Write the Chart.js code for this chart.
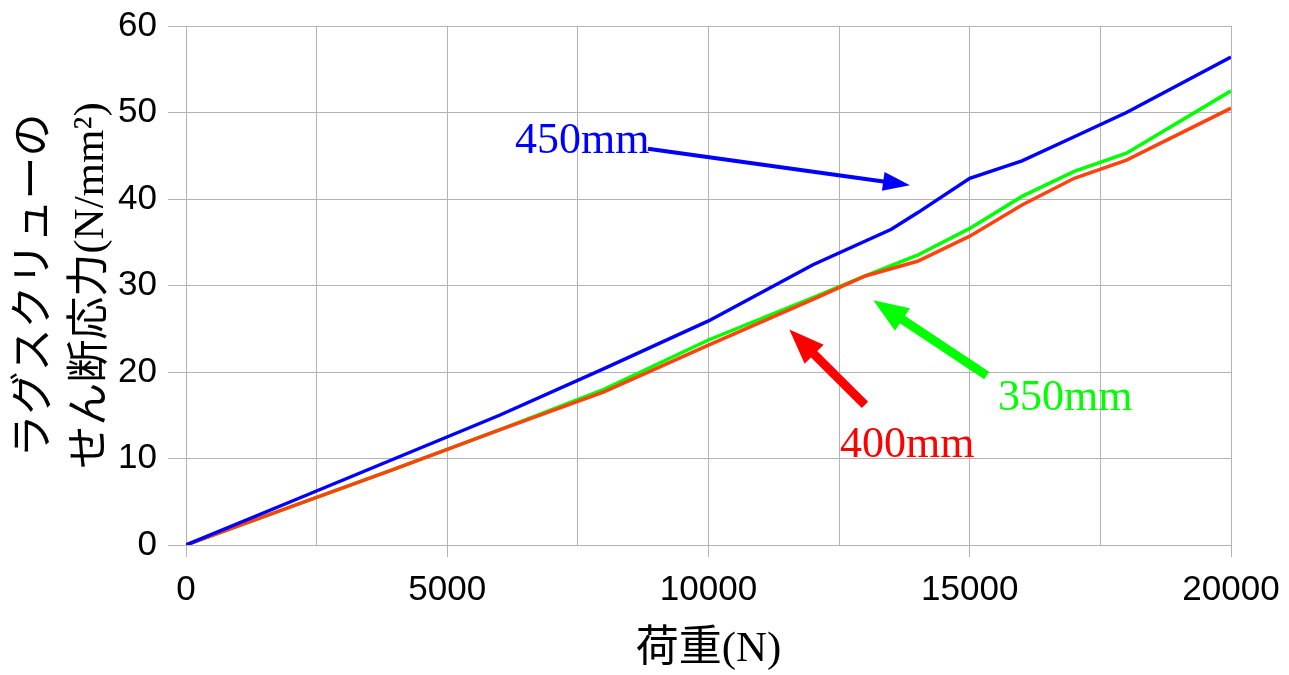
<!DOCTYPE html>
<html>
<head>
<meta charset="utf-8">
<script src="https://cdn.jsdelivr.net/npm/chart.js@4"></script>
<style>
  html, body { margin: 0; background: #fff; }
  #wrap { width: 1289px; height: 675px; }
</style>
</head>
<body>
<div id="wrap"><canvas id="chart"></canvas></div>
<script>
// load (N) for each series
const load450 = [0, 2000, 4000, 6000, 8000, 10000, 12000, 13500, 14000, 15000, 16000, 17000, 18000, 20000];
const stress450 = [0, 5.0, 10.0, 15.0, 20.4, 25.9, 32.4, 36.5, 38.4, 42.4, 44.4, 47.2, 50.0, 56.4];

const load400 = [0, 2000, 4000, 6000, 8000, 10000, 12000, 13000, 14000, 15000, 16000, 17000, 18000, 20000];
const stress400 = [0, 4.4, 8.8, 13.3, 17.7, 23.1, 28.4, 31.1, 32.8, 35.7, 39.3, 42.4, 44.5, 50.5];

const load350 = [0, 2000, 4000, 6000, 8000, 10000, 12000, 13000, 14000, 15000, 16000, 17000, 18000, 20000];
const stress350 = [0, 4.4, 8.8, 13.3, 18.0, 23.7, 28.6, 31.1, 33.5, 36.6, 40.3, 43.2, 45.3, 52.5];

const xTitle = "荷重(N)";
const yTitle = ["ラグスクリューの", "せん断応力(N/mm²)"];

const GRID = "#b3b3b3";
const SERIF = '"Liberation Serif", "Noto Sans CJK JP", serif';
const SANS = '"Liberation Sans", Arial, sans-serif';

// callout arrows, in data units (load, stress)
const callouts = [
  { text: "450mm", color: "#0000ff", textAt: [6297, 45.3], from: [8842, 45.8], to: [13856, 41.6], width: 4, headLen: 27, headW: 19 },
  { text: "350mm", color: "#00ff00", textAt: [15541, 15.6], from: [15324, 19.6], to: [13154, 28.3], width: 9, headLen: 35, headW: 27 },
  { text: "400mm", color: "#ff0000", textAt: [12517, 10.2], from: [12995, 16.2], to: [11547, 24.9], width: 9, headLen: 35, headW: 27 },
];

const toPoints = (xs, ys) => xs.map((x, i) => ({ x: x, y: ys[i] }));

/** Arrows and labels */
const calloutPlugin = {
  id: "callouts",
  afterDatasetsDraw(chart) {
    const { ctx, scales } = chart;
    const px = (p) => [scales.x.getPixelForValue(p[0]), scales.y.getPixelForValue(p[1])];
    ctx.save();
    callouts.forEach((c) => {
      const [x0, y0] = px(c.from);
      const [x1, y1] = px(c.to);
      const ang = Math.atan2(y1 - y0, x1 - x0);
      const bx = x1 - Math.cos(ang) * (c.headLen - 2);
      const by = y1 - Math.sin(ang) * (c.headLen - 2);

      ctx.strokeStyle = c.color;
      ctx.fillStyle = c.color;
      ctx.lineWidth = c.width;
      ctx.lineCap = "butt";
      ctx.beginPath();
      ctx.moveTo(x0, y0);
      ctx.lineTo(bx, by);
      ctx.stroke();

      // head
      const hx = x1 - Math.cos(ang) * c.headLen;
      const hy = y1 - Math.sin(ang) * c.headLen;
      const nx = -Math.sin(ang) * c.headW / 2;
      const ny = Math.cos(ang) * c.headW / 2;
      ctx.beginPath();
      ctx.moveTo(x1, y1);
      ctx.lineTo(hx + nx, hy + ny);
      ctx.lineTo(hx - nx, hy - ny);
      ctx.closePath();
      ctx.fill();

      // label
      const [tx, ty] = px(c.textAt);
      ctx.font = "44px " + SERIF;
      ctx.textAlign = "left";
      ctx.textBaseline = "alphabetic";
      ctx.fillText(c.text, tx, ty);
    });
    ctx.restore();
  },
};

new Chart(document.getElementById("chart"), {
  type: "line",
  data: {
    datasets: [
      { label: "450mm", data: toPoints(load450, stress450), borderColor: "#0000ff" },
      { label: "400mm", data: toPoints(load400, stress400), borderColor: "#ff420e" },
      { label: "350mm", data: toPoints(load350, stress350), borderColor: "#00ff00" },
    ],
  },
  options: {
    responsive: true,
    maintainAspectRatio: false,
    animation: false,
    layout: { padding: { top: 26, right: 58, bottom: 0, left: 0 } },
    elements: {
      point: { radius: 0 },
      line: { borderWidth: 3.5, tension: 0 },
    },
    plugins: {
      legend: { display: false },
      tooltip: { enabled: false },
    },
    scales: {
      x: {
        type: "linear",
        min: 0,
        max: 20000,
        afterFit: (scale) => {
          scale.height = 130;
          scale.paddingLeft = 0;
          scale.paddingRight = 0;
        },
        ticks: {
          stepSize: 2500,
          autoSkip: false,
          maxRotation: 0,
          padding: 12,
          color: "#000",
          font: { family: SANS, size: 35 },
          callback: (v) => (v % 5000 === 0 ? v : ""),
        },
        grid: {
          color: GRID,
          tickLength: 12,
          tickColor: (ctx) => (ctx.tick && ctx.tick.value % 5000 === 0 ? GRID : "rgba(0,0,0,0)"),
        },
        border: { color: GRID },
        title: {
          display: true,
          text: xTitle,
          color: "#000",
          font: { family: SERIF, size: 43, lineHeight: 1.1 },
          padding: { top: 0, bottom: 2 },
        },
      },
      y: {
        min: 0,
        max: 60,
        afterFit: (scale) => {
          scale.width = 186;
          scale.paddingTop = 0;
          scale.paddingBottom = 0;
        },
        ticks: {
          stepSize: 5,
          padding: 11,
          color: "#000",
          font: { family: SANS, size: 35 },
          callback: (v) => (v % 10 === 0 ? v : ""),
        },
        grid: {
          color: GRID,
          tickLength: 18,
          tickColor: (ctx) => (ctx.tick && ctx.tick.value % 10 === 0 ? GRID : "rgba(0,0,0,0)"),
        },
        border: { color: GRID },
        title: {
          display: true,
          text: yTitle,
          color: "#000",
          font: { family: SERIF, size: 43, lineHeight: 1.3 },
          padding: { top: 8, bottom: 0 },
        },
      },
    },
  },
  plugins: [calloutPlugin],
});
</script>
</body>
</html>
